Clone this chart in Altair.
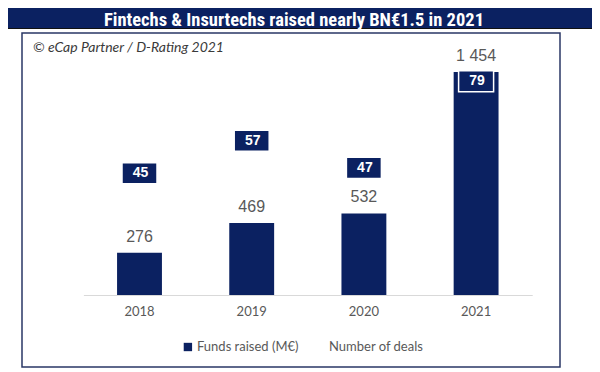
import altair as alt
import pandas as pd

years = ["2018", "2019", "2020", "2021"]
funds = [276, 469, 532, 1454]
fund_labels = ["276", "469", "532", "1 454"]
deals = [45, 57, 47, 79]

title_text = "Fintechs & Insurtechs raised nearly BN€1.5 in 2021"
source_text = "© eCap Partner / D-Rating 2021"
legend_funds = "Funds raised (M€)"
legend_deals = "Number of deals"

NAVY = "#0b2161"
GREY = "#595959"

df = pd.DataFrame({"year": years, "funds": funds, "flabel": fund_labels, "deals": deals})
one = alt.Data(values=[{}])

x_enc = alt.X("year:N", sort=years, title=None,
              scale=alt.Scale(paddingInner=0.6, paddingOuter=0.3),
              axis=alt.Axis(labelAngle=0, ticks=False, labelPadding=10, labelFontSize=13,
                            labelColor=GREY, labelFont="Lato", domainColor="#d9d9d9",
                            domainWidth=1.2, grid=False))
y_funds = alt.Y("funds:Q", scale=alt.Scale(domain=[0, 1500], nice=False), axis=None, title=None)

base = alt.Chart(df)

frame = alt.Chart(one).mark_rect(fill=None, stroke="#2a3766", strokeWidth=1.5).encode(
    x=alt.value(-61.4), x2=alt.value(476.6), y=alt.value(-32), y2=alt.value(302))
titlebar = alt.Chart(one).mark_rect(fill=NAVY).encode(
    x=alt.value(-80), x2=alt.value(515), y=alt.value(-60), y2=alt.value(-36.5))
titleline = alt.Chart(one).mark_rule(color="#111111", strokeWidth=1.2).encode(
    x=alt.value(-80), x2=alt.value(515), y=alt.value(-36.5))
title = alt.Chart(one).mark_text(text=title_text, color="white", fontSize=18.5, fontWeight="bold",
                                 font="Liberation Sans Narrow, Roboto Condensed, Roboto",
                                 align="center", baseline="middle").encode(
    x=alt.value(210.6), y=alt.value(-45.5))
source = alt.Chart(one).mark_text(text=source_text, color="#3a3a3a", fontSize=14, fontStyle="italic",
                                  font="Lato", align="left", baseline="middle").encode(
    x=alt.value(-50.4), y=alt.value(-17.5))
leg_sq = alt.Chart(one).mark_square(color=NAVY, size=70, opacity=1).encode(
    x=alt.value(104.5), y=alt.value(282))
leg_t1 = alt.Chart(one).mark_text(text=legend_funds, color=GREY, fontSize=13, font="Lato",
                                  align="left", baseline="middle").encode(
    x=alt.value(113.6), y=alt.value(282))
leg_t2 = alt.Chart(one).mark_text(text=legend_deals, color=GREY, fontSize=13, font="Lato",
                                  align="left", baseline="middle").encode(
    x=alt.value(245.6), y=alt.value(282))

bars = base.mark_bar(color=NAVY).encode(x=x_enc, y=y_funds)
bar_labels = base.mark_text(color=GREY, fontSize=16, font="Liberation Sans", baseline="bottom", dy=-8).encode(
    x=alt.X("year:N", sort=years), y=y_funds, text="flabel:N")

deal_scale = alt.Scale(domain=[0, 85], nice=False)
deal_boxes = base.transform_calculate(
    lo="datum.deals - 3.9", hi="datum.deals + 3.9"
).mark_bar(width=35, color=NAVY, stroke="white", strokeWidth=1.5).encode(
    x=alt.X("year:N", sort=years),
    y=alt.Y("lo:Q", scale=deal_scale, axis=None, title=None),
    y2="hi:Q")
deal_text = base.mark_text(color="white", fontSize=14, fontWeight="bold", font="Liberation Sans",
                           baseline="middle", dx=1).encode(
    x=alt.X("year:N", sort=years),
    y=alt.Y("deals:Q", scale=deal_scale, axis=None, title=None),
    text="deals:Q")

chart = alt.layer(
    frame, titlebar, titleline, title, source, leg_sq, leg_t1, leg_t2,
    bars, bar_labels, deal_boxes, deal_text
).resolve_scale(y="independent").properties(
    width=448.8, height=230,
    autosize=alt.AutoSizeParams(type="none"),
    padding={"left": 75.4, "top": 57, "right": 59.8, "bottom": 74},
).configure_view(stroke=None)

chart.save("out.html", embed_options={"renderer": "svg", "actions": False})
